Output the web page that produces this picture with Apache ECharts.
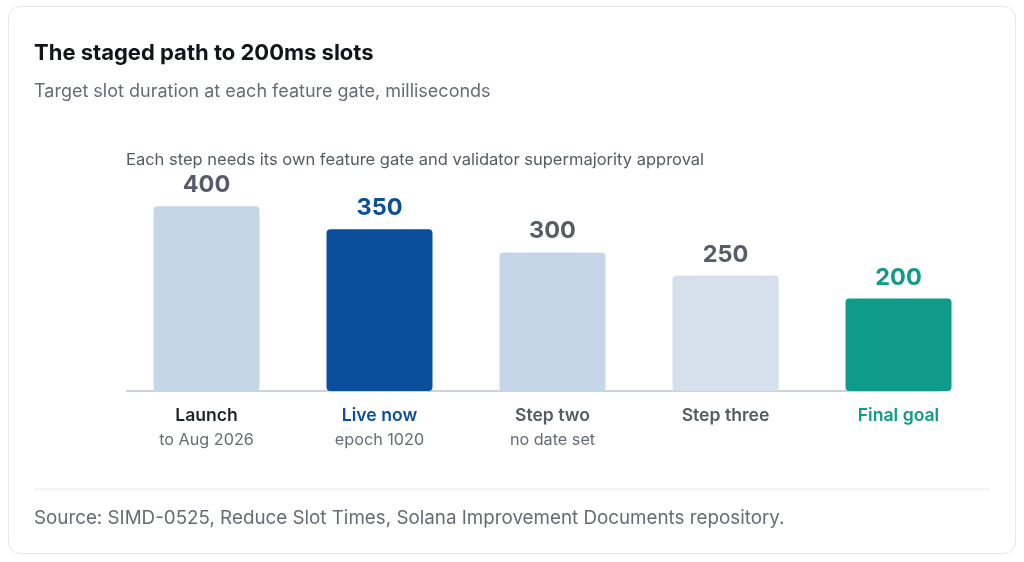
<!DOCTYPE html>
<html><head><meta charset="utf-8">
<script src="https://cdn.jsdelivr.net/npm/echarts@6/dist/echarts.min.js"></script>
<style>
html,body{margin:0;padding:0;background:#fff;}
#card{position:absolute;left:8px;top:6px;width:1008px;height:548px;border:1px solid #e6e8eb;border-radius:12px;box-sizing:border-box;}
#chart{position:absolute;left:0;top:0;width:1024px;height:562px;}
</style></head>
<body>
<div id="card"></div>
<div id="chart"></div>
<script>
const categories = ['Launch', 'Live now', 'Step two', 'Step three', 'Final goal'];
const subLabels = ['to Aug 2026', 'epoch 1020', 'no date set', '', ''];
const slotMs = [400, 350, 300, 250, 200];
const barColors = ['#c5d6e9', '#0b4f9c', '#c5d6e9', '#d5e0ec', '#0f9b8a'];
const valueColors = ['#555d68', '#0b4f9c', '#555d68', '#555d68', '#0f9b8a'];
const nameStyles = ['dark', 'blue', 'gray', 'gray', 'teal'];

const chart = echarts.init(document.getElementById('chart'));
const font = 'Inter, "Noto Sans", sans-serif';
chart.setOption({
  animation: false,
  textStyle: { fontFamily: font },
  title: [
    { text: 'The staged path to 200ms slots', left: 29, top: 37, textStyle: { fontFamily: font, fontSize: 22, fontWeight: 'bold', color: '#111418' } },
    { text: 'Target slot duration at each feature gate, milliseconds', left: 29, top: 78, textStyle: { fontFamily: font, fontSize: 18, fontWeight: 'normal', color: '#666c75' } },
    { text: 'Each step needs its own feature gate and validator supermajority approval', left: 121, top: 147, textStyle: { fontFamily: font, fontSize: 16.5, fontWeight: 'normal', color: '#555b63' } },
    { text: 'Source: SIMD-0525, Reduce Slot Times, Solana Improvement Documents repository.', left: 29, top: 504, textStyle: { fontFamily: font, fontSize: 18.8, fontWeight: 'normal', color: '#666c75' } }
  ],
  graphic: [
    { type: 'line', z: 0, shape: { x1: 34, y1: 489, x2: 990, y2: 489 }, style: { stroke: '#e8eaed', lineWidth: 1 } },
    { type: 'line', z: 0, shape: { x1: 126, y1: 391, x2: 940, y2: 391 }, style: { stroke: '#cdd3da', lineWidth: 2 } }
  ],
  grid: { left: 120, right: 39, top: 160, bottom: 171 },
  xAxis: {
    type: 'category',
    data: categories,
    axisLine: { show: false },
    axisTick: { show: false },
    axisLabel: {
      margin: 12,
      interval: 0,
      formatter: (v, i) => '{' + nameStyles[i] + '|' + v + '}' + (subLabels[i] ? '\n{sub|' + subLabels[i] + '}' : ''),
      rich: {
        dark: { fontFamily: font, fontSize: 17.6, fontWeight: 600, color: '#1f242b', lineHeight: 25 },
        blue: { fontFamily: font, fontSize: 17.6, fontWeight: 600, color: '#0b4f9c', lineHeight: 25 },
        gray: { fontFamily: font, fontSize: 17.6, fontWeight: 600, color: '#555b63', lineHeight: 25 },
        teal: { fontFamily: font, fontSize: 17.6, fontWeight: 600, color: '#0f9b8a', lineHeight: 25 },
        sub: { fontFamily: font, fontSize: 16.2, color: '#666c75', lineHeight: 25 }
      }
    }
  },
  yAxis: { type: 'value', min: 0, max: 500, show: false, splitLine: { show: false } },
  series: [{
    type: 'bar',
    barWidth: 106,
    z: 5,
    data: slotMs.map((v, i) => ({
      value: v,
      itemStyle: { color: barColors[i], borderRadius: 4 },
      label: { color: valueColors[i] }
    })),
    label: {
      show: true, position: 'top', distance: 9,
      fontFamily: font, fontSize: 23.5, fontWeight: 'bold'
    }
  }]
});
</script>
</body></html>
